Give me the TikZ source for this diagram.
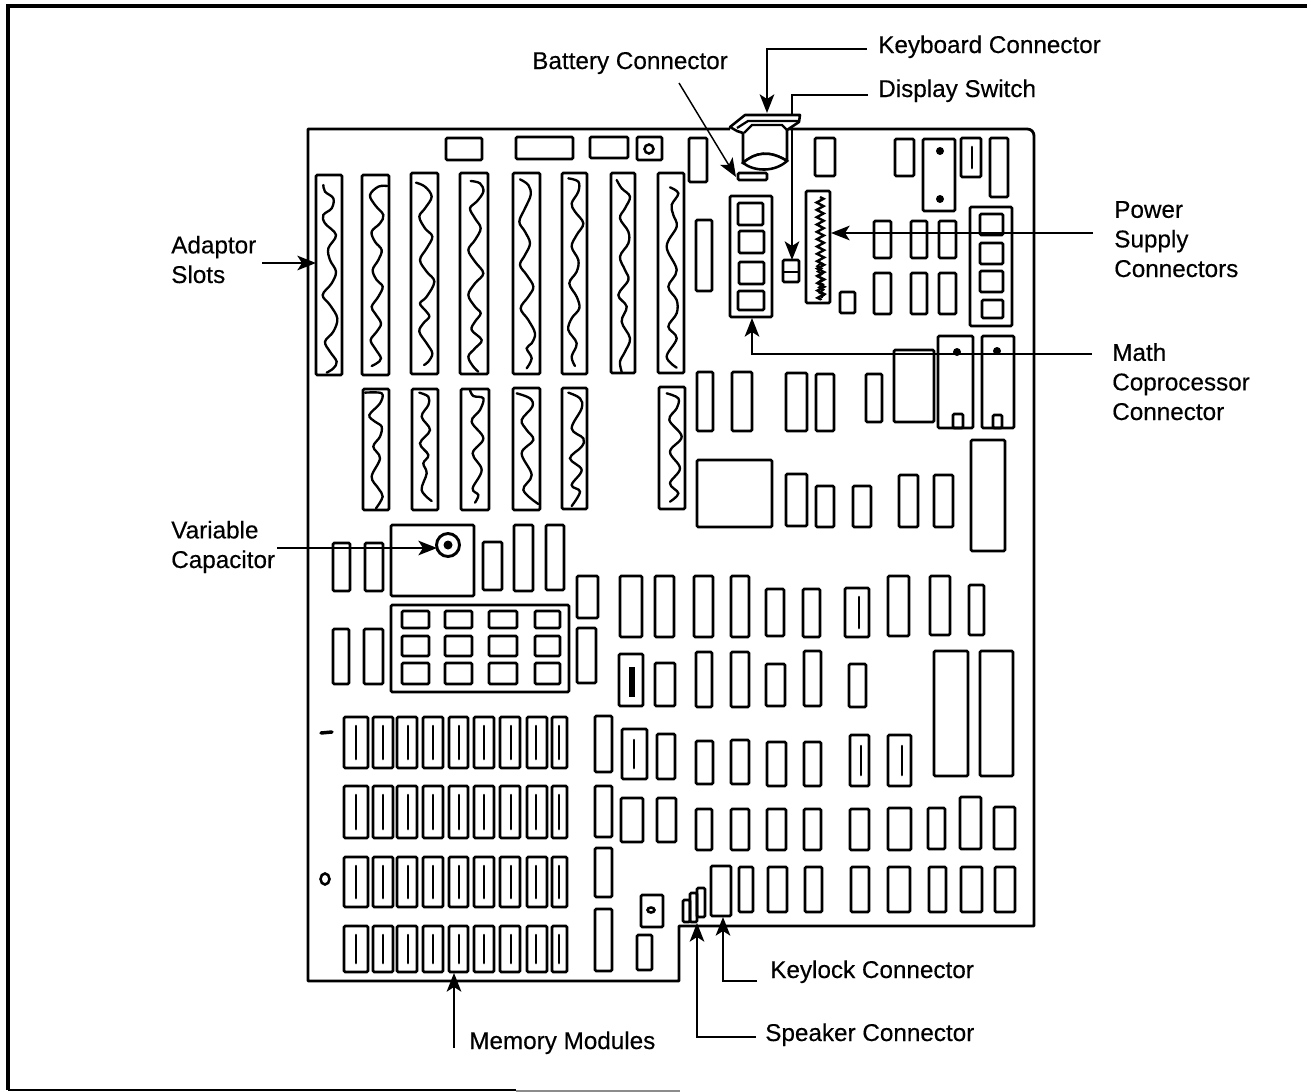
\documentclass[tikz,border=0pt]{standalone}
\usepackage{fontspec}
\setmainfont{Liberation Sans}[BoldFont=Liberation Sans,BoldFeatures={FakeBold=0.35}]
\usetikzlibrary{arrows.meta,decorations.pathmorphing}
\tikzset{
  part/.style={draw=black,line width=2pt,rounded corners=1pt,fill=none},
  wave/.style={draw=black,line width=1.75pt,line cap=round},
  lead/.style={draw=black,line width=1.1pt},
  tip/.style={lead,-{Stealth[length=14pt,width=11pt,inset=3.5pt]}},
  inner/.style={draw=black,line width=2pt,line cap=round},
  lbl/.style={inner sep=0pt,anchor=base west,align=left,font=\fontsize{18.2}{22.2}\selectfont\bfseries,text=black}
}
\newcommand\bx[4]{\draw[part] (#1,#2) rectangle (#3,#4);}
\newcommand\bxl[6]{\draw[part] (#1,#2) rectangle (#3,#4);\draw[inner] (#5,{#2+#6}) -- (#5,{#4-#6});}
\newcommand\wav[1]{\draw[wave] plot[smooth,tension=0.6] coordinates {#1};}
\begin{document}
\begin{tikzpicture}[x=0.75pt,y=-0.75pt]
\useasboundingbox (0,0) rectangle (1307,1092);
% frame
\draw[black,line width=2.4pt] (8,1090) -- (8,6) -- (1307,6);
\draw[black,line width=2pt] (8,1090) -- (516,1090);
\draw[black!45,line width=1.2pt] (516,1091) -- (680,1091);
% leaders behind parts
\coordinate (kbA) at (867,49); \coordinate (kbT) at (767,113);
\coordinate (dsA) at (868,95); \coordinate (dsT) at (792,260);
\coordinate (baA) at (679,83); \coordinate (baT) at (736,177);
\coordinate (psA) at (1093,233); \coordinate (psT) at (831,233);
\coordinate (maA) at (1092,354); \coordinate (maT) at (752,318);
\coordinate (adA) at (262,263); \coordinate (adT) at (316,263);
\coordinate (vcA) at (277,548); \coordinate (vcT) at (437,548);
\coordinate (meA) at (454,1048); \coordinate (meT) at (454,973);
\coordinate (klA) at (757,981); \coordinate (klT) at (723,917);
\coordinate (spA) at (756,1037); \coordinate (spT) at (697,923);
\draw[tip] (dsA) -| (dsT);
% board
\draw[black,line width=2.1pt,line join=round] (730,129) -- (308,129) -- (308,981) -- (679,981) -- (679,926) -- (1034,926) -- (1034,135) [rounded corners=5pt] -- (1034,129) -- (787,129);
% keyboard connector
\draw[black,line width=1.9pt,line join=round,fill=white] (730,127) -- (745,115) -- (800,115) -- (799,122) -- (790,128) -- (787,130) -- (787,161) .. controls (770,150) and (755,152) .. (743,163) -- (743,133) -- (737,131) -- cycle;
\draw[black,line width=1.7pt] (737,128) -- (748,121) -- (799,121);
\draw[black,line width=1.7pt] (744,133) -- (752,125) -- (782,125) -- (787,130);
\draw[black,line width=1.9pt,fill=white] (743,163) .. controls (755,152) and (770,150) .. (787,161) .. controls (775,172) and (755,172) .. (743,163) -- cycle;
% top row
\bx{446}{138}{482}{160}\bx{516}{137}{573}{159}\bx{590}{137}{628}{158}\bx{637}{137}{662}{160}
\draw[black,line width=1.9pt] (649,149) circle[radius=4.5];
\bx{689}{138}{707}{182}\bx{738}{173}{767}{180}\bx{815}{138}{835}{176}\bx{895}{139}{914}{176}
\bx{923}{139}{955}{211}
\fill[black] (940,151) circle[radius=4] (940,199) circle[radius=4];
\bxl{961}{138}{981}{177}{972}{9}
\bx{990}{138}{1008}{197}
% slots top row
\bx{316}{175}{342}{375}\bx{362}{175}{389}{375}\bx{411}{173}{438}{374}\bx{460}{173}{488}{374}
\bx{513}{173}{540}{374}\bx{562}{173}{587}{374}\bx{611}{173}{635}{373}\bx{658}{173}{684}{373}
% slots bottom row
\bx{363}{389}{389}{510}\bx{412}{389}{438}{510}\bx{461}{389}{489}{510}\bx{513}{388}{540}{510}\bx{562}{388}{587}{509}\bx{659}{387}{685}{509}
% waves
\begin{scope}[shift={(300,100)},x=0.25pt,y=-0.25pt]
\wav{(70,255)(75,275)(100,295)(95,325)(70,345)(75,370)(108,405)(85,445)(90,480)(108,515)(95,550)(68,585)(90,615)(112,655)(100,695)(75,725)(90,755)(110,785)(100,805)(80,818)}
\wav{(262,258)(235,260)(210,285)(225,315)(250,345)(240,370)(215,395)(225,425)(245,450)(235,480)(218,510)(230,540)(248,560)(235,590)(215,620)(225,640)(243,670)(230,695)(212,720)(225,745)(243,775)(230,790)(215,798)}
\wav{(348,248)(375,260)(395,290)(375,325)(358,350)(375,385)(397,410)(380,445)(360,480)(380,515)(403,545)(380,590)(360,610)(375,630)(388,650)(370,670)(358,695)(380,730)(397,760)(385,785)(372,795)}
\wav{(512,243)(540,250)(550,275)(530,305)(510,325)(525,355)(542,385)(525,420)(505,450)(525,485)(550,520)(525,550)(505,585)(525,620)(542,640)(525,665)(515,690)(545,720)(525,745)(505,770)(520,800)(535,815)}
\wav{(660,238)(685,255)(692,285)(675,325)(658,365)(675,395)(690,430)(675,465)(660,495)(680,525)(700,560)(685,590)(662,625)(685,660)(705,700)(695,730)(680,745)(695,775)(680,805)}
\wav{(805,235)(835,245)(835,275)(815,310)(825,335)(850,370)(830,405)(815,440)(835,480)(830,515)(808,550)(830,590)(838,625)(815,655)(805,690)(830,730)(815,770)(825,798)}
\wav{(950,240)(965,265)(990,290)(975,325)(960,355)(985,395)(985,430)(960,470)(975,510)(985,540)(955,585)(980,620)(965,665)(990,715)(975,755)(960,785)(965,815)}
\wav{(1110,262)(1135,280)(1115,315)(1120,345)(1130,380)(1100,440)(1130,510)(1105,560)(1130,600)(1130,640)(1105,680)(1130,715)(1100,770)(1130,803)}
\wav{(195,878)(245,880)(240,910)(208,945)(225,965)(245,980)(240,1010)(220,1040)(240,1075)(215,1130)(235,1165)(248,1190)(228,1225)}
\wav{(358,878)(385,890)(385,915)(365,950)(390,990)(360,1030)(385,1065)(370,1090)(380,1120)(365,1170)(395,1203)}
\wav{(510,870)(520,888)(550,895)(540,930)(515,965)(550,1015)(518,1060)(545,1110)(518,1165)(535,1185)(525,1208)}
\wav{(650,880)(690,895)(697,920)(665,960)(680,990)(700,1020)(665,1060)(695,1125)(670,1170)(715,1212)}
\wav{(805,878)(840,895)(845,925)(815,985)(850,1015)(845,1040)(810,1075)(845,1110)(815,1155)(840,1175)(815,1218)}
\wav{(1100,880)(1135,895)(1130,925)(1108,960)(1145,1010)(1110,1055)(1140,1105)(1110,1150)(1135,1180)(1110,1205)}
\end{scope}
% math coprocessor socket
\bx{730}{196}{772}{317}\bx{738}{203}{763}{225}\bx{739}{231}{764}{253}\bx{739}{262}{764}{284}\bx{738}{291}{764}{310}
\bx{696}{220}{712}{291}
% display switch
\bx{783}{260}{799}{282}\draw[black,line width=1.7pt] (783,272) -- (799,272);
% power connector
\bx{806}{191}{830}{303}
\draw[black,line width=1.8pt,decorate,decoration={zigzag,segment length=5.5pt,amplitude=2.6pt}] (820,197) -- (821,300);
\draw[black,line width=1.4pt,decorate,decoration={zigzag,segment length=4pt,amplitude=1.6pt}] (819,262) -- (822,298);
\bx{840}{292}{855}{313}
\bx{874}{221}{891}{258}\bx{911}{221}{927}{258}\bx{939}{221}{956}{258}
\bx{874}{273}{891}{314}\bx{911}{273}{927}{314}\bx{939}{273}{956}{314}
\bx{970}{207}{1012}{326}\bx{980}{214}{1003}{235}\bx{980}{243}{1003}{264}\bx{980}{271}{1003}{292}\bx{982}{300}{1003}{318}
% row under
\bx{697}{372}{713}{431}\bx{732}{372}{752}{431}\bx{786}{373}{807}{431}\bx{816}{374}{834}{431}\bx{866}{374}{882}{422}\bx{894}{350}{934}{422}
\bx{938}{336}{973}{428}\bx{953}{414}{963}{428}\fill[black] (957,352) circle[radius=4];
\bx{982}{336}{1014}{428}\bx{993}{415}{1002}{428}\fill[black] (997,351) circle[radius=4];
\bx{697}{460}{772}{527}\bx{786}{474}{807}{526}\bx{816}{486}{834}{527}\bx{853}{486}{871}{527}\bx{899}{475}{918}{527}\bx{934}{475}{953}{527}\bx{971}{440}{1005}{551}
% variable capacitor block
\bx{333}{543}{350}{591}\bx{365}{543}{383}{591}\bx{391}{525}{474}{596}\bx{483}{542}{502}{590}\bx{514}{525}{533}{591}\bx{546}{525}{564}{590}\bx{577}{576}{598}{618}\bx{577}{628}{596}{683}
\draw[black,line width=2.2pt] (448,545) circle[radius=11.5];
\fill[black] (448,545) circle[radius=4.5];
\bx{333}{629}{349}{684}\bx{364}{629}{383}{684}\bx{391}{605}{569}{692}
\foreach \ya/\yb in {611/628,636/656,663/684}{
  \foreach \xa/\xb in {402/429,445/472,489/517,535/560}{\bx{\xa}{\ya}{\xb}{\yb}}}
% memory modules
\foreach \ya/\yb in {717/768,786/838,857/907,926/972}{
  \foreach \xa/\xb/\xc in {344/368/356,373/393/383,397/417/408,423/443/433,449/468/459,474/494/484,500/520/511,527/547/536,552/567/559}{\bxl{\xa}{\ya}{\xb}{\yb}{\xc}{9}}}
\bx{595}{716}{612}{772}\bx{595}{786}{612}{837}\bx{595}{848}{612}{897}\bx{595}{909}{612}{971}
\draw[black,line width=2.6pt,line cap=round] (321,733) -- (332,732);
\draw[black,line width=1.9pt] (325,879) ellipse[x radius=4.5,y radius=5.5];
% right field
\bx{620}{576}{642}{637}\bx{655}{576}{674}{637}\bx{694}{576}{713}{637}\bx{731}{576}{749}{637}\bx{766}{589}{784}{636}\bx{803}{589}{820}{637}
\bxl{845}{588}{869}{637}{859}{9}
\bx{888}{576}{909}{636}\bx{930}{576}{950}{635}\bx{969}{585}{984}{635}
\bx{619}{654}{643}{706}\draw[black,line width=4pt] (632,667) -- (632,697);
\bx{655}{663}{675}{706}\bx{696}{652}{712}{707}\bx{731}{652}{749}{707}\bx{766}{664}{785}{706}\bx{804}{651}{821}{706}\bx{849}{664}{866}{707}
\bx{934}{651}{968}{776}\bx{980}{651}{1013}{776}
\bxl{622}{729}{647}{779}{634}{11}
\bx{657}{734}{675}{779}\bx{696}{741}{713}{784}\bx{731}{740}{749}{784}\bx{767}{742}{786}{786}\bx{804}{742}{821}{786}
\bxl{850}{735}{869}{786}{861}{11}
\bxl{888}{735}{911}{786}{902}{11}
\bx{621}{798}{643}{842}\bx{657}{798}{676}{842}\bx{696}{809}{712}{850}\bx{731}{809}{749}{850}\bx{767}{809}{786}{850}\bx{804}{809}{821}{850}\bx{850}{809}{869}{850}\bx{888}{808}{911}{850}\bx{928}{808}{945}{849}\bx{960}{797}{981}{849}\bx{994}{807}{1015}{849}
\bx{711}{866}{731}{916}\bx{739}{867}{753}{912}\bx{768}{867}{787}{912}\bx{805}{867}{822}{912}\bx{851}{867}{869}{912}\bx{888}{867}{910}{912}\bx{929}{867}{946}{912}\bx{961}{867}{982}{912}\bx{995}{867}{1015}{912}
\bx{683}{900}{690}{922}\bx{690}{893}{697}{922}\bx{697}{888}{705}{917}
\bx{641}{895}{663}{927}\draw[black,line width=1.9pt] (651,910) ellipse[x radius=3.5,y radius=2.5];
\bx{637}{935}{652}{970}
% labels
\node[lbl] (lKeyboard) at (878,53) {Keyboard Connector};
\node[lbl] (lBattery) at (532,69) {Battery Connector};
\node[lbl] (lDisplay) at (878,97) {Display Switch};
\node[lbl] (lPower) at (1114,277) {Power\\Supply\\Connectors};
\node[lbl] (lMath) at (1112,420) {Math\\Coprocessor\\Connector};
\node[lbl] (lAdaptor) at (171,283) {Adaptor\\Slots};
\node[lbl] (lVariable) at (171,568) {Variable\\Capacitor};
\node[lbl] (lKeylock) at (770,978) {Keylock Connector};
\node[lbl] (lSpeaker) at (765,1041) {Speaker Connector};
\node[lbl] (lMemory) at (469,1049) {Memory Modules};
% connectors
\draw[tip] (kbA) -| (kbT);
\draw[tip] (baA) -- (baT);
\draw[tip] (psA) -- (psT);
\draw[tip] (maA) -| (maT);
\draw[tip] (adA) -- (adT);
\draw[tip] (vcA) -- (vcT);
\draw[tip] (meA) -- (meT);
\draw[tip] (klA) -| (klT);
\draw[tip] (spA) -| (spT);
\end{tikzpicture}
\end{document}
